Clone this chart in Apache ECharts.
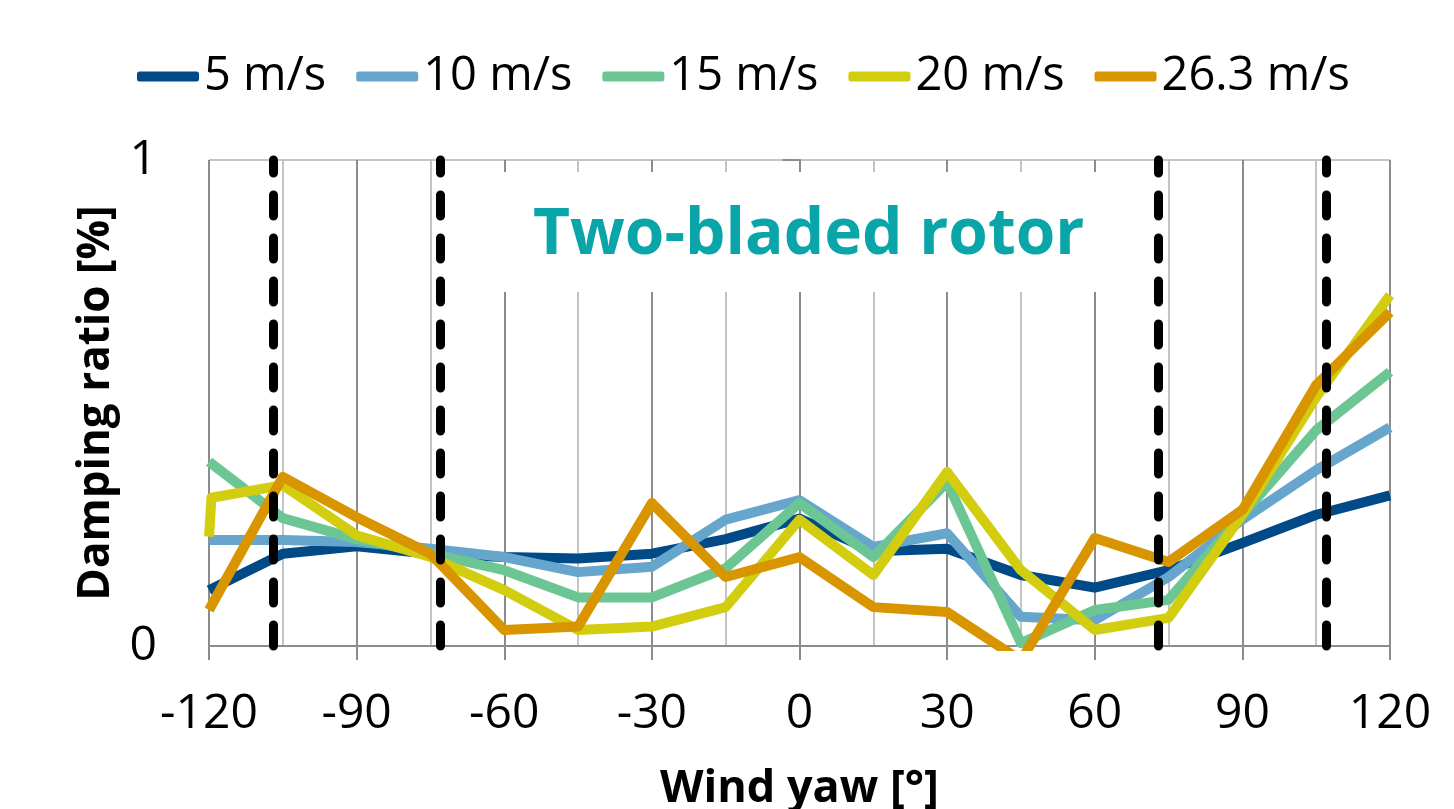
<!DOCTYPE html>
<html>
<head>
<meta charset="utf-8">
<script src="https://cdn.jsdelivr.net/npm/echarts@6/dist/echarts.min.js"></script>
<style>
  html, body { margin: 0; padding: 0; background: #fff; }
  #chart { width: 1454px; height: 809px; }
</style>
</head>
<body>
<div id="chart"></div>
<script>
// ---- data ----
const yaw = [-120, -105, -90, -75, -60, -45, -30, -15, 0, 15, 30, 45, 60, 75, 90, 105, 120];
const yaw20 = [-120, -119.5, -105, -90, -75, -60, -45, -30, -15, 0, 15, 30, 45, 60, 75, 90, 105, 120];
const seriesNames = ['5 m/s', '10 m/s', '15 m/s', '20 m/s', '26.3 m/s'];
const v5  = [0.115, 0.19, 0.205, 0.19, 0.183, 0.18, 0.19, 0.22, 0.262, 0.195, 0.2, 0.146, 0.12, 0.156, 0.212, 0.27, 0.31];
const v10 = [0.218, 0.218, 0.214, 0.2, 0.183, 0.152, 0.163, 0.26, 0.3, 0.204, 0.232, 0.06, 0.053, 0.142, 0.26, 0.362, 0.45];
const v15 = [0.379, 0.263, 0.22, 0.19, 0.156, 0.1, 0.1, 0.16, 0.294, 0.183, 0.337, 0.006, 0.074, 0.095, 0.27, 0.444, 0.564];
const v20 = [0.225, 0.305, 0.331, 0.228, 0.183, 0.115, 0.033, 0.04, 0.08, 0.26, 0.146, 0.358, 0.156, 0.033, 0.058, 0.27, 0.512, 0.722];
const v26 = [0.074, 0.348, 0.265, 0.19, 0.033, 0.04, 0.294, 0.142, 0.183, 0.08, 0.07, -0.03, 0.222, 0.173, 0.28, 0.537, 0.687];
const dividers = [-107, -73, 73, 107];
const colors = ['#004a87', '#66a6cc', '#6cc693', '#d3cd10', '#d99500'];
const titleText = 'Two-bladed rotor';
const xName = 'Wind yaw [°]';
const yName = 'Damping ratio [%]';

function pairs(xs, ys) { return xs.map((x, i) => [x, ys[i]]); }
const xsList = [yaw, yaw, yaw, yaw20, yaw];
const ysList = [v5, v10, v15, v20, v26];

const FONT = "'Open Sans', 'Noto Sans', sans-serif";

const series = seriesNames.map((name, i) => ({
  name: name,
  type: 'line',
  data: pairs(xsList[i], ysList[i]),
  showSymbol: false,
  symbol: 'none',
  lineStyle: { color: colors[i], width: 10, join: 'round', cap: 'butt' },
  itemStyle: { color: colors[i] },
  clip: true,
  z: 2
}));

series[series.length - 1].markLine = {
  silent: true,
  z: 10,
  symbol: ['none', 'none'],
  label: { show: false },
  lineStyle: { color: '#000', width: 9, type: [21, 22], cap: 'round', dashOffset: 0 },
  emphasis: { disabled: true },
  data: dividers.map(d => ({ xAxis: d }))
};

const chart = echarts.init(document.getElementById('chart'));
chart.setOption({
  animation: false,
  backgroundColor: '#fff',
  title: {
    text: titleText,
    left: 483,
    top: 172,
    padding: [32, 50, 24, 50],
    backgroundColor: '#fff',
    z: 6,
    textStyle: { color: '#0aa5a9', fontFamily: FONT, fontWeight: 'bold', fontSize: 64 }
  },
  legend: {
    data: seriesNames,
    left: 132,
    top: 48,
    icon: 'roundRect',
    itemWidth: 62,
    itemHeight: 10,
    itemGap: 30,
    textStyle: { color: '#000', fontFamily: FONT, fontSize: 47 }
  },
  grid: { left: 209, right: 64, top: 160, bottom: 163, containLabel: false, outerBoundsMode: 'none' },
  xAxis: {
    type: 'value',
    min: -120, max: 120, interval: 30,
    name: xName,
    nameLocation: 'middle',
    nameGap: 121,
    nameTextStyle: { color: '#000', fontFamily: FONT, fontWeight: 'bold', fontSize: 45 },
    axisLine: { show: true, onZero: false, lineStyle: { color: '#8c8c8c', width: 2 } },
    axisTick: { show: true, length: 14, lineStyle: { color: '#8c8c8c', width: 2 } },
    axisLabel: { color: '#000', fontFamily: FONT, fontSize: 48, margin: 44 },
    splitLine: { show: true, lineStyle: { color: '#8c8c8c', width: 2 } },
    minorTick: { show: false, splitNumber: 2 },
    minorSplitLine: { show: true, lineStyle: { color: '#c4c4c4', width: 2 } }
  },
  yAxis: {
    type: 'value',
    min: 0, max: 1, interval: 1,
    name: yName,
    nameLocation: 'middle',
    nameGap: 86,
    nameTextStyle: { color: '#000', fontFamily: FONT, fontWeight: 'bold', fontSize: 44 },
    axisLine: { show: true, lineStyle: { color: '#8c8c8c', width: 2 } },
    axisTick: { show: true, length: 17, lineStyle: { color: '#8c8c8c', width: 2 } },
    axisLabel: { color: '#000', fontFamily: FONT, fontSize: 48, margin: 52, padding: [8, 0, 0, 0] },
    splitLine: { show: true, lineStyle: { color: '#c4c4c4', width: 2 } }
  },
  series: series
});
</script>
</body>
</html>
